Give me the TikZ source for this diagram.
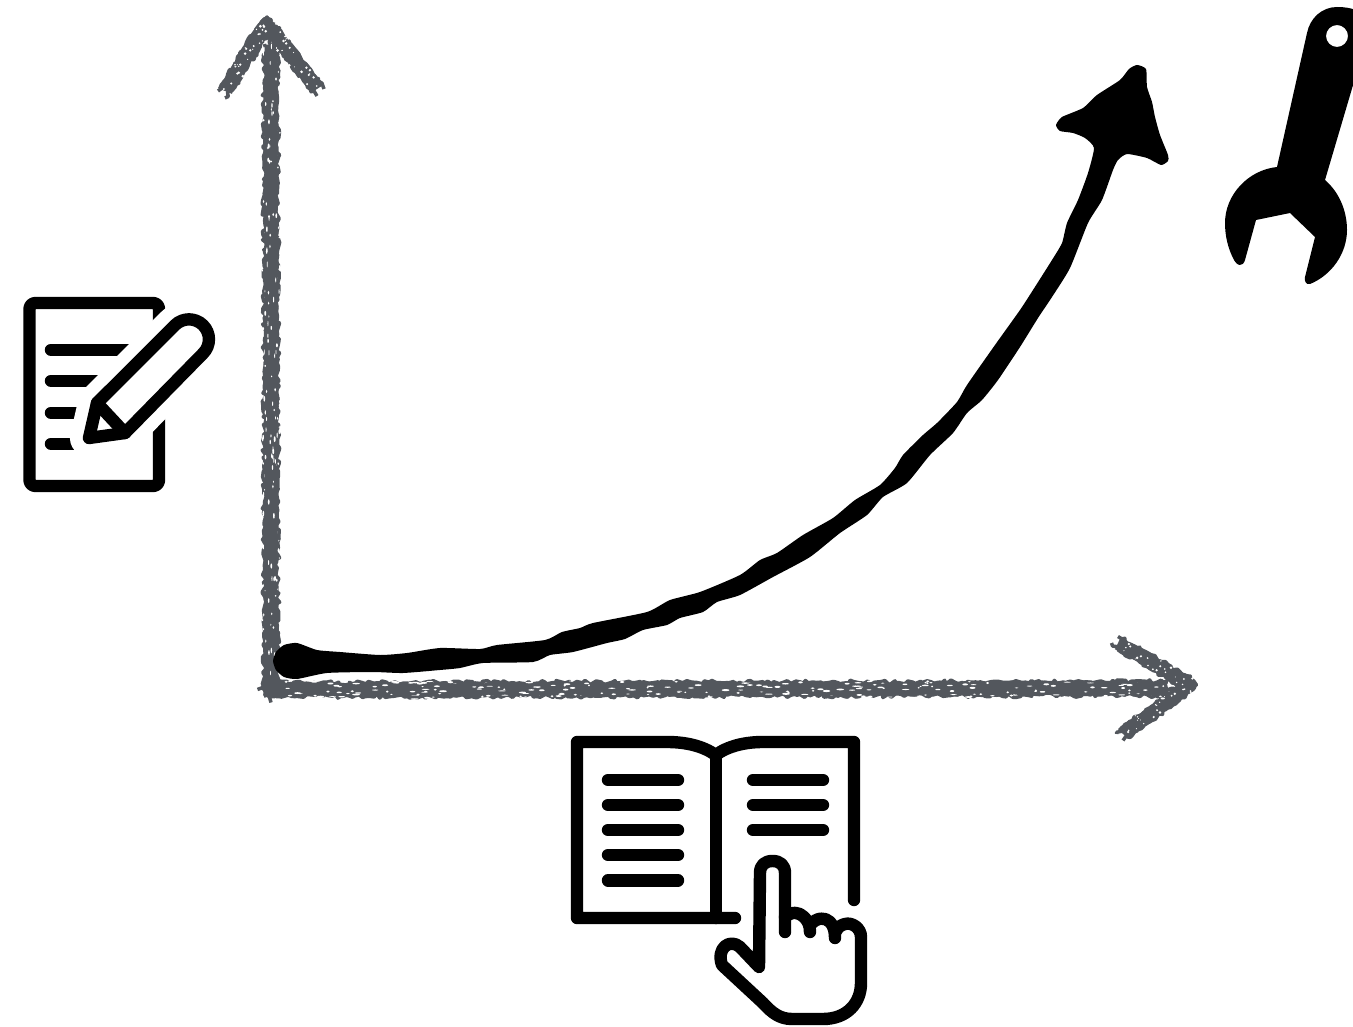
\documentclass[tikz,border=0pt]{standalone}
\usetikzlibrary{decorations.pathmorphing}
\definecolor{chalk}{HTML}{53575D}
\tikzset{
  chalkline/.style={draw=chalk,line cap=butt,line join=round,decorate,decoration={random steps,segment length=4pt,amplitude=1.4pt}},
  chalkedge/.style={draw=chalk,line cap=butt,line join=round,decorate,decoration={random steps,segment length=3.5pt,amplitude=2.2pt}},
  ink/.style={draw=black,line width=12.4pt,line cap=round,line join=round},
}
% #1 core width, #2 edge offset, #3 path
\newcommand{\chalkstroke}[3]{%
  \path[chalkline,line width=#1pt] #3;
  \foreach \dx/\dy in {#2/0,-#2/0,0/#2,0/-#2}{
    \path[chalkedge,line width=3.5pt,shift={(\dx,\dy)}] #3;
  }}
\newcommand{\speckX}[5]{%
  \foreach \i in {1,...,#5}{
    \pgfmathsetmacro{\sx}{#1+(#2-#1)*rnd}
    \pgfmathsetmacro{\sy}{#3+#4*rand}
    \pgfmathsetmacro{\sr}{0.4+0.7*rnd}
    \pgfmathsetmacro{\sl}{1+3*rnd}
    \fill[white] (\sx,\sy) ellipse [x radius=\sl pt,y radius=\sr pt];
  }}
\newcommand{\speckY}[5]{%
  \foreach \i in {1,...,#5}{
    \pgfmathsetmacro{\sy}{#1+(#2-#1)*rnd}
    \pgfmathsetmacro{\sx}{#3+#4*rand}
    \pgfmathsetmacro{\sr}{0.4+0.6*rnd}
    \pgfmathsetmacro{\sl}{0.8+2.2*rnd}
    \fill[white] (\sx,\sy) ellipse [x radius=\sr pt,y radius=\sl pt];
  }}
\newcommand{\speckL}[6]{%
  \foreach \i in {1,...,#6}{
    \pgfmathsetmacro{\st}{rnd}
    \pgfmathsetmacro{\sx}{#1+(#3-#1)*\st+#5*rand}
    \pgfmathsetmacro{\sy}{#2+(#4-#2)*\st+#5*rand}
    \pgfmathsetmacro{\sr}{0.5+1.0*rnd}
    \fill[white] (\sx,\sy) circle [radius=\sr pt];
  }}
\begin{document}
\begin{tikzpicture}[x=1pt,y=-1pt]
\useasboundingbox (0,0) rectangle (1353,1027);
\pgfmathsetseed{4242}
% axes
\chalkstroke{14}{6.5}{(271,696) -- (271,44)}
\chalkstroke{15}{7}{(225,91) -- (267,24) -- (317,89)}
\chalkstroke{14}{6.5}{(264,689.5) -- (1168,688.5)}
\chalkstroke{14}{6.5}{(1118,643) -- (1190,685) -- (1123,734)}
\speckX{272}{1165}{690}{9}{210}
\speckY{46}{680}{271}{9}{130}
\speckL{225}{91}{267}{24}{7}{26}
\speckL{267}{24}{317}{89}{7}{26}
\speckL{1118}{643}{1190}{685}{7}{24}
\speckL{1190}{685}{1123}{734}{7}{24}
% curve with its head, one outline
\fill[black] plot[smooth cycle,tension=.35] coordinates {
 (273,661) (276,652) (284,645) (297,643) (317,650) (340,652) (380,655) (407,653) (440,648) (480,649) (497,645)
 (545,640) (562,632) (580,628) (593,623) (647,612) (670,600) (700,592) (740,575)
 (760,560) (777,553) (803,535) (833,518) (855,500) (880,485) (895,468) (903,455) (923,435)
 (937,423) (957,402) (967,385) (995,345) (1020,310) (1033,290) (1052,260) (1062,243) (1067,223)
 (1078,200) (1088,173) (1094,148)
 (1085,138) (1073,133) (1060,131) (1056,125) (1062,117) (1083,108) (1097,95) (1120,80)
 (1129,69) (1137,65) (1146,69) (1147,87) (1152,102) (1155,117) (1160,135) (1168,155) (1168,161) (1161,165)
 (1147,158) (1127,154) (1118,160) (1113,170)
 (1102,200) (1088,223) (1070,268) (1052,297) (1038,318) (1020,347) (998,380) (982,400) (967,413)
 (953,433) (930,455) (907,483) (883,497) (867,515) (840,533) (810,557) (773,577) (740,595)
 (717,602) (703,612) (680,618) (667,625) (643,630) (625,639) (607,643) (573,652) (550,655) (533,662)
 (483,663) (460,668) (440,670) (403,673) (373,672) (327,673) (297,679) (284,677) (276,670)};
% wrench
\begin{scope}
\clip (1200,0) rectangle (1353,300);
\fill[black,even odd rule]
  (1307,33) .. controls (1310,18) and (1322,7) .. (1337,7)
  .. controls (1345,7) and (1350,8) .. (1356,10)
  -- (1356,75) -- (1325,180)
  .. controls (1340,193) and (1347,212) .. (1347,230)
  .. controls (1347,253) and (1332,275) .. (1310,284)
  .. controls (1306,285) and (1304,281) .. (1305,277)
  -- (1315,237) -- (1290,213) -- (1256,220) -- (1245,260)
  .. controls (1243,267) and (1237,267) .. (1233,258)
  .. controls (1228,248) and (1225,236) .. (1225,223)
  .. controls (1225,195) and (1248,170) .. (1277,167)
  -- cycle
  (1348,36) arc[start angle=0,end angle=360,radius=11pt];
\end{scope}
% page icon
\draw[ink,line cap=butt,rounded corners=6pt] (159,400) -- (159,303) -- (29.5,303) -- (29.5,486) -- (159,486) -- (159,400);
\draw[ink] (51,349.7) -- (135,349.7);
\draw[ink] (51,380.7) -- (110,380.7);
\draw[ink] (51,412.7) -- (88,412.7);
\draw[ink] (51,443.7) -- (84,443.7);
% pencil halo and pencil
\path[draw=white,fill=white,line width=38pt,line join=round]
  (174.9,325.2) .. controls (182.7,317.4) and (195.3,317.4) .. (203.1,325.2)
  .. controls (210.9,333) and (210.9,345.6) .. (203.1,353.4)
  -- (125,433) -- (89,438) -- (97,403) -- cycle;
\draw[ink,fill=white]
  (174.9,325.2) .. controls (182.7,317.4) and (195.3,317.4) .. (203.1,325.2)
  .. controls (210.9,333) and (210.9,345.6) .. (203.1,353.4)
  -- (125,433) -- (89,438) -- (97,403) -- cycle;
\draw[ink] (97,403) -- (125,433);
% book
\draw[ink] (854,900) -- (854,742) -- (763,742) .. controls (745,742) and (728,746) .. (715.7,755)
  .. controls (703,746) and (686,742) .. (667,742) -- (577,742) -- (577,918) -- (735,918);
\draw[ink] (715.7,755) -- (715.7,918);
\foreach \y in {780,805,830,855,880.3} \draw[ink] (608,\y) -- (678,\y);
\foreach \y in {780,805,830} \draw[ink] (753,\y) -- (823,\y);
% hand
\draw[ink] (785,932) -- (785,873) .. controls (785,865) and (780,861) .. (772.5,861)
  .. controls (765,861) and (760,865) .. (760,873) -- (759,967) -- (740,947)
  .. controls (730,938) and (716,948) .. (722,965) -- (763,1003)
  .. controls (772,1013) and (780,1019) .. (792,1019) -- (823,1019)
  .. controls (847,1019) and (861,1003) .. (861,983) -- (861,937)
  .. controls (861,928) and (852,922) .. (845,924) .. controls (841,925) and (838,927) .. (836,931);
\draw[ink] (785,917) .. controls (792,911) and (799,912) .. (804,917) .. controls (808,921) and (810,925) .. (810,932);
\draw[ink] (810,925) .. controls (817,917) and (825,917) .. (830,922) .. controls (834,926) and (835,932) .. (835,938);
\end{tikzpicture}
\end{document}
